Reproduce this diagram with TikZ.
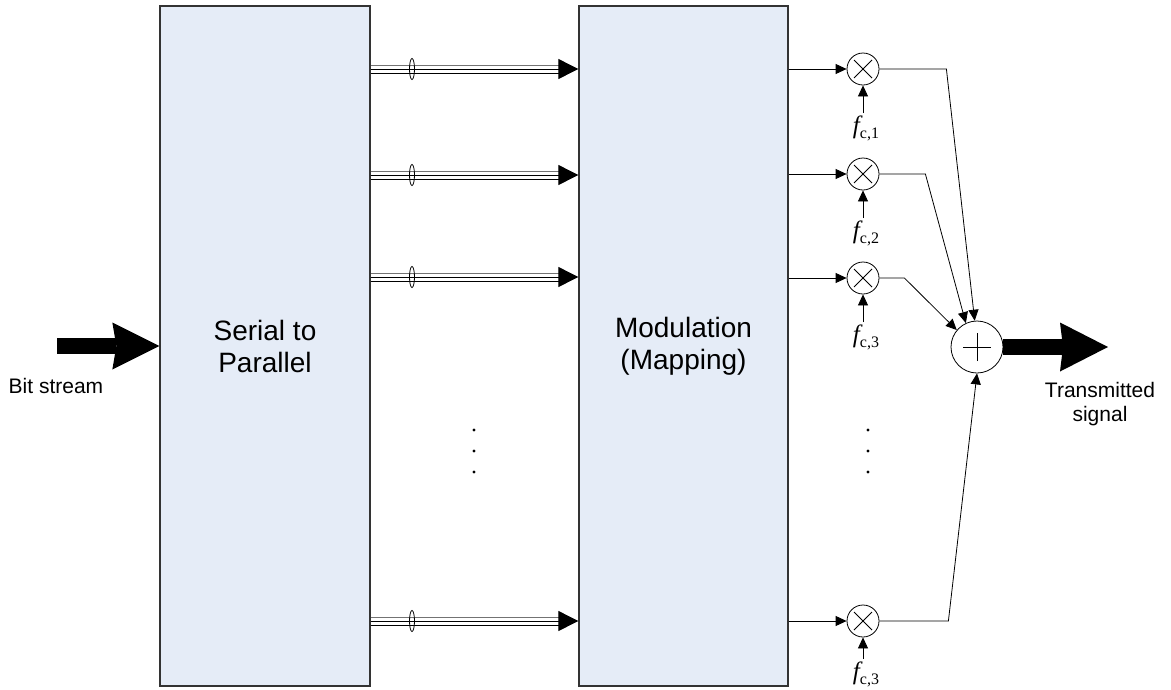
\documentclass[tikz,border=0pt]{standalone}
\usepackage{fontspec}
\setmainfont{Liberation Sans}
\newfontfamily\tnr{Liberation Serif}
\usetikzlibrary{arrows.meta}
\definecolor{boxfill}{RGB}{229,236,247}
\newcommand{\fclab}[1]{{\fontsize{25}{25}\selectfont\itshape f}\raisebox{-5pt}{\fontsize{16}{16}\selectfont c,#1}}
\begin{document}
\begin{tikzpicture}[x=1pt,y=-1pt,
  blk/.style={draw=black!80, line width=1.3pt, fill=boxfill, minimum width=210pt,
    minimum height=680pt, inner sep=0pt, align=center,
    font=\fontsize{28}{32}\selectfont},
  conn/.style={line width=0.8pt, -{Triangle[length=11pt,width=10pt]}},
  busarrow/.style={line width=0.9pt, -{Triangle[length=20pt,width=20pt]}},
  busline/.style={line width=0.9pt},
  mult/.style={circle, draw, line width=0.8pt, minimum size=32pt, inner sep=0pt,
    path picture={
      \draw[line width=0.8pt] ([shift={(-9pt,-9pt)}]path picture bounding box.center)
        -- ([shift={(9pt,9pt)}]path picture bounding box.center);
      \draw[line width=0.8pt] ([shift={(-9pt,9pt)}]path picture bounding box.center)
        -- ([shift={(9pt,-9pt)}]path picture bounding box.center);}},
  sumn/.style={circle, draw, line width=0.8pt, minimum size=52pt, inner sep=0pt,
    path picture={
      \draw[line width=0.8pt] ([shift={(-14pt,0pt)}]path picture bounding box.center)
        -- ([shift={(14pt,0pt)}]path picture bounding box.center);
      \draw[line width=0.8pt] ([shift={(0pt,-14pt)}]path picture bounding box.center)
        -- ([shift={(0pt,14pt)}]path picture bounding box.center);}},
  flab/.style={inner sep=0pt, anchor=north, font=\tnr},
  fat/.style={line width=16.5pt},
  lbl/.style={align=center, inner sep=0pt, font=\fontsize{21}{24}\selectfont}
]
\useasboundingbox (0,0) rectangle (1171,689);

% blocks
\node[blk] (b1) at (265,346) {Serial to\\Parallel};
\node[blk, minimum width=209pt] (b2) at (683.5,346) {Modulation\\(Mapping)};

% bit stream input
\coordinate (bsin) at (57,346);
\draw[fat, -{Stealth[length=47pt,width=47pt,inset=4pt,line width=0pt]}] (bsin) -- (b1.west |- bsin);
\node[lbl] (bst) at (56,385.5) {Bit stream};

% buses
\foreach \yy in {69,175,277,621} {
  \draw[busline, black!55] (b1.east |- 0,{\yy-4}) -- (562,{\yy-4});
  \draw[busline] (b1.east |- 0,{\yy+4}) -- (562,{\yy+4});
  \draw[busarrow] (b1.east |- 0,\yy) -- (b2.west |- 0,\yy);
  \draw[line width=0.8pt] (412,\yy) ellipse [x radius=2.5pt, y radius=10.5pt];
}

% dots
\foreach \yy in {430,451,472} {
  \fill (474,\yy) circle[radius=1.6pt];
  \fill (868,\yy) circle[radius=1.6pt];
}

% multipliers
\node[mult] (m1) at (863,69) {};
\node[mult] (m2) at (863,174) {};
\node[mult] (m3) at (863,278) {};
\node[mult] (m4) at (863,621) {};

\node[flab] (f1) at (866,116) {\fclab{1}};
\node[flab] (f2) at (866,221) {\fclab{2}};
\node[flab] (f3) at (866,325) {\fclab{3}};
\node[flab] (f4) at (866,662) {\fclab{3}};

\foreach \i in {1,2,3,4} {
  \draw[conn] (b2.east |- m\i) -- (m\i);
  \draw[conn] ([yshift=3pt]m\i |- f\i.north) -- (m\i);
}

% summer
\node[sumn] (s) at (977,347) {};
\draw[conn] (m1.east) -- ++(67,0) -- (s.95);
\draw[conn] (m2.east) -- ++(46,0) -- (s.115);
\draw[conn] (m3.east) -- ++(25,0) -- (s.140);
\draw[conn] (m4.east) -- ++(69,0) -- (s.270);

% output
\coordinate (tout) at (1108,347);
\draw[fat, -{Stealth[length=48pt,width=49pt,inset=3pt,line width=0pt]}] (s.east) -- (tout);
\node[lbl] (tsig) at (1100,404) {Transmitted\\signal};
\end{tikzpicture}
\end{document}
